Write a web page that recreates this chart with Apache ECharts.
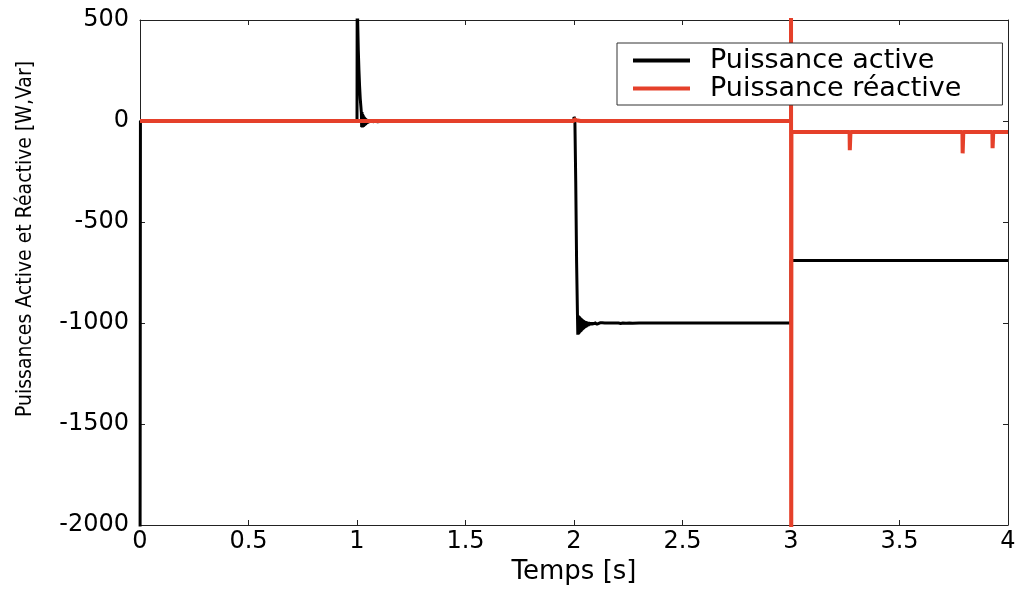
<!DOCTYPE html>
<html>
<head>
<meta charset="utf-8">
<script src="https://cdn.jsdelivr.net/npm/echarts@6/dist/echarts.min.js"></script>
<style>
html,body{margin:0;padding:0;background:#fff;}
#chart{width:1022px;height:590px;}
</style>
</head>
<body>
<div id="chart"></div>
<script>
// ---- data ----
const seriesNames = ['Puissance active', 'Puissance réactive'];
const xTicks = [0, 0.5, 1, 1.5, 2, 2.5, 3, 3.5, 4];
const yTicks = [-2000, -1500, -1000, -500, 0, 500];
const xLabel = 'Temps [s]';
const yLabel = 'Puissances Active et Réactive [W,Var]';

// active power [t (s), P (W)]
const activePower = [
  [0, -2600], [0.002, 0],
  [1.0, 0], [1.001, 700], [1.003, 500], [1.006, 350], [1.009, 250], [1.012, 170],
  [1.015, 110], [1.018, 70], [1.02, 40], [1.0215, -30], [1.023, 45], [1.0245, -32],
  [1.026, 35], [1.0275, -30], [1.029, 28], [1.0305, -28], [1.032, 22], [1.0335, -25],
  [1.035, 18], [1.0365, -22], [1.038, 14], [1.0395, -19], [1.041, 12], [1.0425, -16],
  [1.044, 10], [1.0455, -14], [1.047, 8], [1.0485, -12], [1.05, 7], [1.052, -10],
  [1.054, 6], [1.056, -9], [1.058, 5], [1.06, -8], [1.063, 4], [1.066, -7], [1.069, 4],
  [1.072, -6], [1.075, 3], [1.078, -5], [1.082, 3], [1.086, -4], [1.09, 2], [1.095, -4],
  [1.1, 2], [1.105, -3], [1.11, 2], [1.116, -3], [1.122, 1], [1.13, -2], [1.14, 1],
  [1.15, -2], [1.16, 1], [1.175, -1], [1.19, 0],
  [2.0, 0], [2.0, 20], [2.004, 10], [2.008, -300], [2.012, -700], [2.016, -960],
  [2.0175, -1058], [2.019, -962], [2.0205, -1055], [2.022, -965], [2.0235, -1052],
  [2.025, -968], [2.0265, -1048], [2.028, -972], [2.0295, -1045], [2.031, -975],
  [2.0325, -1042], [2.034, -978], [2.0355, -1038], [2.037, -981], [2.0385, -1035],
  [2.04, -984], [2.0415, -1032], [2.043, -986], [2.0445, -1029], [2.046, -988],
  [2.0475, -1026], [2.049, -990], [2.0505, -1024], [2.052, -991], [2.0535, -1022],
  [2.055, -992], [2.0565, -1020], [2.058, -993], [2.0595, -1018], [2.061, -994],
  [2.0625, -1016], [2.064, -995], [2.0655, -1015], [2.067, -995], [2.0685, -1013],
  [2.07, -996], [2.072, -1012], [2.074, -996], [2.076, -1011], [2.078, -997],
  [2.08, -1010], [2.083, -997], [2.086, -1009], [2.089, -998], [2.092, -1008],
  [2.095, -998], [2.098, -1007], [2.102, -998], [2.106, -1006], [2.11, -999],
  [2.115, -1005], [2.12, -999], [2.125, -1004], [2.13, -999], [2.136, -1004],
  [2.142, -1000], [2.148, -1003], [2.155, -1000], [2.162, -1003], [2.17, -1000],
  [2.178, -1002], [2.186, -1000], [2.195, -1002], [2.205, -1000], [2.215, -1002],
  [2.225, -1000], [2.24, -1001], [2.255, -1000], [2.27, -1001], [2.3, -1000],
  [3.0, -1000], [3.0, -690], [4.0, -690]
];

// reactive power [t (s), Q (Var)]
const reactivePower = [
  [0, 0], [2.0, 0], [2.0, 10], [2.01, 4], [2.03, 0],
  [3.0, 0], [3.0, 900], [3.001, -2600], [3.002, -55],
  [3.27, -55], [3.271, -145], [3.273, -145], [3.274, -55],
  [3.79, -55], [3.791, -160], [3.793, -160], [3.794, -55],
  [3.928, -55], [3.929, -135], [3.931, -135], [3.932, -55],
  [4.0, -55]
];

const colors = ['#000000', '#e5402a'];
const axisColor = '#222';
const tickFont = {fontFamily: 'DejaVu Sans', fontSize: 24, color: '#000'};

const chart = echarts.init(document.getElementById('chart'), null, {renderer: 'canvas'});

const baseX = {
  type: 'value', min: xTicks[0], max: xTicks[xTicks.length - 1], interval: xTicks[1] - xTicks[0],
  splitLine: {show: false},
  axisLine: {show: true, onZero: false, lineStyle: {color: axisColor, width: 1}},
  axisTick: {show: true, inside: true, length: 5, lineStyle: {color: axisColor}}
};
const baseY = {
  type: 'value', min: yTicks[0], max: yTicks[yTicks.length - 1], interval: yTicks[1] - yTicks[0],
  splitLine: {show: false},
  axisLine: {show: true, onZero: false, lineStyle: {color: axisColor, width: 1}},
  axisTick: {show: true, inside: true, length: 5, lineStyle: {color: axisColor}}
};

chart.setOption({
  animation: false,
  backgroundColor: '#fff',
  grid: {left: 140, right: 14, top: 20, bottom: 65, containLabel: false},
  graphic: [{
    type: 'text',
    x: 26, y: 239,
    rotation: Math.PI / 2,
    style: {
      text: yLabel,
      fontFamily: "'DejaVu Sans Condensed', 'DejaVu Sans', sans-serif",
      fontSize: 21,
      fill: '#000',
      textAlign: 'center',
      textVerticalAlign: 'middle'
    }
  }],
  legend: {
    data: seriesNames,
    orient: 'vertical',
    left: 617, top: 43,
    padding: [4, 41, 3, 16],
    itemGap: 1,
    itemWidth: 57, itemHeight: 4,
    icon: 'rect',
    backgroundColor: '#fff',
    borderColor: '#333', borderWidth: 1,
    textStyle: {fontFamily: 'DejaVu Sans', fontSize: 27, lineHeight: 26, color: '#000', padding: [0, 0, 0, 15]}
  },
  xAxis: [
    Object.assign({}, baseX, {
      position: 'bottom',
      name: xLabel, nameLocation: 'middle', nameGap: 32,
      nameTextStyle: {fontFamily: 'DejaVu Sans', fontSize: 26, color: '#000'},
      axisLabel: Object.assign({margin: 5, formatter: v => String(v)}, tickFont)
    }),
    Object.assign({}, baseX, {position: 'top', axisLabel: {show: false}})
  ],
  yAxis: [
    Object.assign({}, baseY, {
      position: 'left',
      axisLabel: Object.assign({margin: 11, formatter: v => String(v)}, tickFont)
    }),
    Object.assign({}, baseY, {position: 'right', axisLabel: {show: false}})
  ],
  series: [
    {
      name: seriesNames[0], type: 'line', data: activePower, showSymbol: false, symbol: 'none',
      clip: true, color: colors[0], lineStyle: {color: colors[0], width: 3}, z: 2
    },
    {
      name: seriesNames[1], type: 'line', data: reactivePower, showSymbol: false, symbol: 'none',
      clip: true, color: colors[1], lineStyle: {color: colors[1], width: 4}, z: 3
    }
  ]
});
</script>
</body>
</html>
